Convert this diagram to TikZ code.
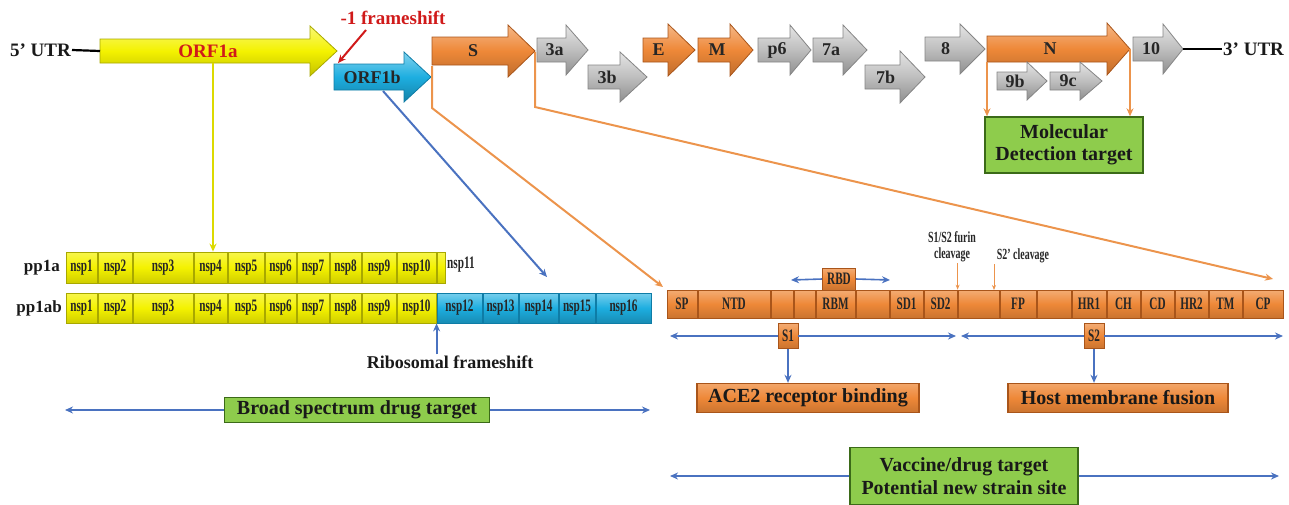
\documentclass[tikz,border=0pt]{standalone}
\usepackage{fontspec}
\setmainfont{Liberation Serif}
\newfontfamily\cf{Liberation Serif}[FakeStretch=0.64]
\usetikzlibrary{arrows.meta}
\definecolor{ylw}{HTML}{F4F200}
\definecolor{ylwd}{HTML}{A8A800}
\definecolor{cyn}{HTML}{1DAEE0}
\definecolor{cynd}{HTML}{0E7CA6}
\definecolor{org}{HTML}{EE8838}
\definecolor{orgd}{HTML}{A9551A}
\definecolor{gry}{HTML}{BEBEBE}
\definecolor{gryd}{HTML}{858585}
\definecolor{grn}{HTML}{8ECC4C}
\definecolor{grnd}{HTML}{3B6A18}
\definecolor{lnblue}{HTML}{4A72C0}
\definecolor{lnorg}{HTML}{EC944C}
\definecolor{redt}{HTML}{D01A1A}
\newcommand\gene[9]{%
  \path[#8] (#2,#5-#6) -- (#3,#5-#6) -- (#3,#5-#7) -- (#4,#5) -- (#3,#5+#7) -- (#3,#5+#6) -- (#2,#5+#6) -- cycle;
  \coordinate (#1-w) at (#2,#5);
  \coordinate (#1-e) at (#4,#5);
  \node[glbl] (#1) at ({(#2+#3)/2+3},#5) {#9};
}
\begin{document}
\begin{tikzpicture}[x=1pt,y=-1pt,
  lbl/.style={font=\fontsize{20}{24}\selectfont\bfseries, text=black!90, align=center, inner sep=1pt},
  glbl/.style={font=\fontsize{18}{20}\selectfont\bfseries, text=black!85, inner sep=0},
  cond/.style={font=\cf\fontsize{17.5}{18}\selectfont\bfseries, text=black!85},
  condsm/.style={font=\cf\fontsize{15.5}{16}\selectfont\bfseries, text=black!85, align=center, inner sep=1pt},
  yarrow/.style={draw=ylwd, line width=0.8pt, top color=ylw!55!white, bottom color=ylw!80!black, middle color=ylw},
  carrow/.style={draw=cynd, line width=0.8pt, top color=cyn!55!white, bottom color=cyn!75!black, middle color=cyn},
  oarrow/.style={draw=orgd, line width=0.8pt, top color=org!60!white, bottom color=org!80!black, middle color=org},
  garrow/.style={draw=gryd, line width=0.8pt, top color=gry!40!white, bottom color=gry!75!black, middle color=gry},
  ycell/.style={draw=ylwd, line width=0.8pt, top color=ylw!70!white, bottom color=ylw!85!black, middle color=ylw, inner sep=0, minimum height=30pt, cond},
  ccell/.style={draw=cynd, line width=0.8pt, top color=cyn!60!white, bottom color=cyn!80!black, middle color=cyn, inner sep=0, minimum height=30pt, cond},
  ocell/.style={draw=orgd, line width=0.8pt, top color=org!70!white, bottom color=org!85!black, middle color=org, inner sep=0, minimum height=28pt, cond},
  obox/.style={draw=orgd, line width=1.4pt, top color=org!75!white, bottom color=org!85!black, middle color=org, lbl, inner sep=2pt},
  gbox/.style={draw=grnd, line width=1.4pt, fill=grn, lbl, inner sep=2pt},
  tip/.style={-{Stealth[length=8pt,width=7pt]}},
  bconn/.style={draw=lnblue, line width=2pt, tip},
  oconn/.style={draw=lnorg, line width=2pt, tip},
  othin/.style={draw=lnorg, line width=1pt, -{Stealth[length=5pt,width=4pt]}},
  yconn/.style={draw=ylw!90!black, line width=2pt, tip},
  rconn/.style={draw=redt, line width=2pt, tip},
  kline/.style={draw=black, line width=2.2pt}]
\useasboundingbox (0,0) rectangle (1289,504);

% ---------- genome row ----------
\gene{ORF1a}{100}{310}{337}{51}{12}{25}{yarrow}{\textcolor{redt}{\fontsize{19}{21}\selectfont ORF1a}}
\gene{ORF1b}{334}{404}{431}{77}{13}{25}{carrow}{ORF1b}
\gene{gS}{432}{508}{535}{51}{14}{26}{oarrow}{S}
\gene{g3a}{537}{566}{588}{50}{12}{25}{garrow}{3a}
\gene{g3b}{588}{620}{647}{77}{12}{25}{garrow}{3b}
\gene{gE}{643}{668}{695}{50}{12}{26}{oarrow}{E}
\gene{gM}{698}{730}{753}{50}{12}{26}{oarrow}{M}
\gene{gp6}{758}{790}{811}{50}{12}{25}{garrow}{p6}
\gene{g7a}{813}{843}{867}{50}{12}{25}{garrow}{7a}
\gene{g7b}{865}{900}{925}{77}{12}{26}{garrow}{7b}
\gene{g8}{925}{960}{985}{49}{12}{25}{garrow}{8}
\gene{gN}{987}{1107}{1130}{49}{13}{26}{oarrow}{N}
\gene{g9b}{997}{1027}{1047}{81}{9}{19}{garrow}{9b}
\gene{g9c}{1050}{1080}{1102}{81}{9}{19}{garrow}{9c}
\gene{g10}{1133}{1163}{1183}{49}{12}{25}{garrow}{10}

\node[lbl, font=\fontsize{19}{21}\selectfont\bfseries, anchor=east] (utr5) at (72,50) {5’ UTR};
\node[lbl, font=\fontsize{19}{21}\selectfont\bfseries, anchor=west] (utr3) at (1222,49) {3’ UTR};
\draw[kline] (utr5.east) -- (ORF1a-w);
\draw[kline] (g10-e) -- (utr3.west);

\node[lbl, font=\fontsize{19}{21}\selectfont\bfseries, text=redt] (fs) at (393,18) {-1 frameshift};
\coordinate (fsS) at (366,30);
\coordinate (fsE) at (338,63);
\draw[rconn] (fsS) -- (fsE);

% ---------- molecular detection ----------
\node[gbox, minimum width=158pt, minimum height=56pt] (mol) at (1064,145) {Molecular\\[-2pt]Detection target};
\coordinate (nL) at (987,62);
\coordinate (nR) at (1130,49);
\draw[oconn] (nL) -- (nL |- mol.north);
\draw[oconn] (nR) -- (nR |- mol.north);

% ---------- polyproteins ----------
\node[lbl, font=\fontsize{17}{19}\selectfont\bfseries, anchor=east] (pp1a) at (61,268) {pp1a};
\node[lbl, font=\fontsize{17}{19}\selectfont\bfseries, anchor=east] (pp1ab) at (63,308) {pp1ab};
\foreach \n/\a/\b in {1/66/97,2/98/132,3/133/193,4/194/227,5/228/264,6/265/296,7/297/329,8/330/361,9/362/396,10/397/436}{
  \node[ycell, minimum width={(\b-\a)*1pt}, minimum height=31pt] (a\n) at ({(\a+\b)/2},267.5) {nsp\n};
  \node[ycell, minimum width={(\b-\a)*1pt}] (b\n) at ({(\a+\b)/2},308) {nsp\n};
}
\node[ycell, minimum width=8pt, minimum height=31pt] (a11) at (441,267.5) {};
\node[cond, anchor=west, inner sep=0] (a11t) at (447,265) {nsp11};
\foreach \n/\a/\b in {12/437/482,13/483/518,14/519/558,15/559/595,16/596/651}{
  \node[ccell, minimum width={(\b-\a)*1pt}] (b\n) at ({(\a+\b)/2},308) {nsp\n};
}

\coordinate (o1aB) at (213,63);
\draw[yconn] (o1aB) -- (o1aB |- a4.north);
\coordinate (o1bB) at (383,91);
\coordinate (bTip) at (547,277);
\draw[bconn] (o1bB) -- (bTip);

\node[lbl, font=\fontsize{18}{20}\selectfont\bfseries] (ribo) at (450,362) {Ribosomal frameshift};
\draw[bconn] (ribo.north -| b12.south west) -- (b12.south west);

\node[gbox, minimum width=265pt, minimum height=25pt] (broad) at (357,410) {Broad spectrum drug target};
\coordinate (brL) at (65,410);
\coordinate (brR) at (650,410);
\draw[bconn] (broad.west) -- (brL);
\draw[bconn] (broad.east) -- (brR);

% ---------- spike protein ----------
\foreach \n/\a/\b/\t in {1/667/697/SP,2/698/770/NTD,3/771/793/{},4/794/815/{},5/816/855/RBM,6/856/889/{},7/890/923/SD1,8/924/957/SD2,9/958/999/{},10/1000/1036/FP,11/1037/1071/{},12/1072/1106/HR1,13/1107/1140/CH,14/1141/1174/CD,15/1175/1208/HR2,16/1209/1242/TM,17/1243/1283/CP}{
  \node[ocell, minimum width={(\b-\a)*1pt}] (sp\n) at ({(\a+\b)/2},304) {\t};
}

\coordinate (sL) at (432,66);
\coordinate (sLk) at (432,108);
\coordinate (sLt) at (663,287);
\draw[oconn] (sL) -- (sLk) -- (sLt);
\coordinate (sR) at (535,52);
\coordinate (sRk) at (535,107);
\coordinate (sRt) at (1273,279);
\draw[oconn] (sR) -- (sRk) -- (sRt);

\coordinate (rbdL) at (791,280);
\coordinate (rbdR) at (890,280);
\node[ocell, minimum width=33pt, minimum height=22pt] (rbd) at (839,279) {RBD};
\draw[bconn, line width=1.6pt] (rbd.west) -- (rbdL);
\draw[bconn, line width=1.6pt] (rbd.east) -- (rbdR);

\node[condsm] (furin) at (952,247) {S1/S2 furin\\cleavage};
\node[condsm] (s2c) at (1023,256) {S2’ cleavage};
\draw[othin] (furin.south -| sp9.north west) -- (sp9.north west);
\coordinate (s2cE) at (994,290);
\draw[othin] (s2c.south -| s2cE) -- (s2cE);

\node[ocell, minimum width=20pt, minimum height=25pt] (s1) at (788,336) {S1};
\node[ocell, minimum width=20pt, minimum height=25pt] (s2) at (1094,336) {S2};
\coordinate (s1L) at (670,336);
\coordinate (s1R) at (956,336);
\coordinate (s2L) at (961,336);
\coordinate (s2R) at (1283,336);
\draw[bconn, line width=1.6pt] (s1.west) -- (s1L);
\draw[bconn, line width=1.6pt] (s1.east) -- (s1R);
\draw[bconn, line width=1.6pt] (s2.west) -- (s2L);
\draw[bconn, line width=1.6pt] (s2.east) -- (s2R);

\node[obox, minimum width=222pt, minimum height=29pt] (ace) at (808,398) {ACE2 receptor binding};
\node[obox, minimum width=220pt, minimum height=29pt] (host) at (1118,398) {Host membrane fusion};
\draw[bconn] (s1.south) -- (s1.south |- ace.north);
\draw[bconn] (s2.south) -- (s2.south |- host.north);

\node[gbox, minimum width=228pt, minimum height=57pt] (vac) at (964,476) {Vaccine/drug target\\[-1pt]Potential new strain site};
\coordinate (vL) at (670,476);
\coordinate (vR) at (1279,476);
\draw[bconn] (vac.west) -- (vL);
\draw[bconn] (vac.east) -- (vR);
\end{tikzpicture}
\end{document}
